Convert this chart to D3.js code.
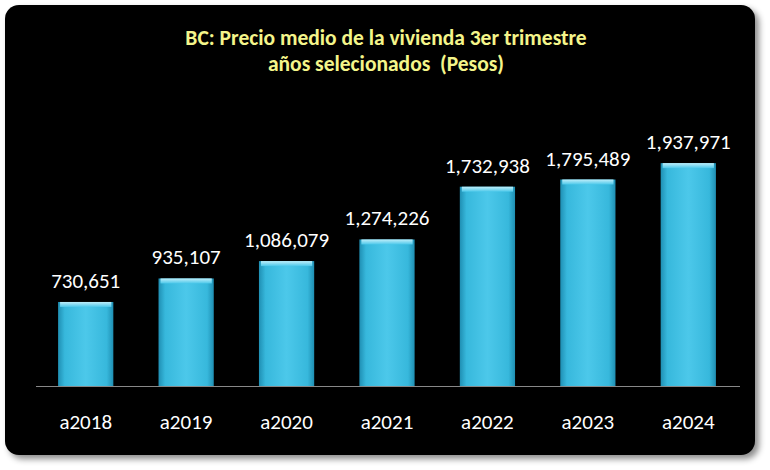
<!DOCTYPE html>
<html><head><meta charset="utf-8">
<script src="https://cdn.jsdelivr.net/npm/d3@7"></script>
<style>body{margin:0;background:#fff}svg{display:block}</style>
</head><body>
<svg id="c" width="770" height="470"></svg>
<script>
var years = ["a2018","a2019","a2020","a2021","a2022","a2023","a2024"];
var prices = [730651, 935107, 1086079, 1274226, 1732938, 1795489, 1937971];
var titleLines = ["BC: Precio medio de la vivienda 3er trimestre", "años selecionados  (Pesos)"];

var svg = d3.select("#c");
var defs = svg.append("defs");
var f = defs.append("filter").attr("id", "sh").attr("x", "-5%").attr("y", "-5%").attr("width", "115%").attr("height", "115%");
f.append("feDropShadow").attr("dx", 4).attr("dy", 4).attr("stdDeviation", 3).attr("flood-color", "#000").attr("flood-opacity", 0.45);

var g1 = defs.append("linearGradient").attr("id", "bar").attr("x1", 0).attr("x2", 1);
g1.append("stop").attr("offset", 0).attr("stop-color", "#1f8fb3");
g1.append("stop").attr("offset", 0.12).attr("stop-color", "#37b8dc");
g1.append("stop").attr("offset", 0.5).attr("stop-color", "#4cc8ea");
g1.append("stop").attr("offset", 0.88).attr("stop-color", "#37b8dc");
g1.append("stop").attr("offset", 1).attr("stop-color", "#1f8fb3");
var g2 = defs.append("linearGradient").attr("id", "top").attr("x1", 0).attr("x2", 0).attr("y1", 0).attr("y2", 1);
g2.append("stop").attr("offset", 0).attr("stop-color", "#bfeefa");
g2.append("stop").attr("offset", 1).attr("stop-color", "#4cc8ea");

svg.append("rect").attr("x", 5).attr("y", 5).attr("width", 750).attr("height", 450)
  .attr("rx", 14).attr("fill", "#000").attr("filter", "url(#sh)");

svg.selectAll("text.title").data(titleLines).enter().append("text")
  .attr("x", 386).attr("y", function (d, i) { return 45 + i * 26; })
  .attr("text-anchor", "middle").attr("fill", "#f4f58a").style("white-space", "pre")
  .attr("font-family", "Carlito, 'Open Sans', sans-serif").attr("font-weight", "bold").attr("font-size", 21.5)
  .text(function (d) { return d; });

var x = d3.scaleBand().domain(years).range([36, 738]).paddingInner(0.45).paddingOuter(0.22);
var y = d3.scaleLinear().domain([0, 2000000]).range([386, 156]);

svg.append("line").attr("x1", 36).attr("x2", 740).attr("y1", 386.5).attr("y2", 386.5)
  .attr("stroke", "#888").attr("stroke-width", 1);

var bars = svg.selectAll("g.bar").data(prices).enter().append("g");
bars.append("rect")
  .attr("x", function (d, i) { return x(years[i]); })
  .attr("y", function (d) { return y(d); })
  .attr("width", x.bandwidth()).attr("height", function (d) { return y(0) - y(d); })
  .attr("fill", "url(#bar)");
bars.append("rect")
  .attr("x", function (d, i) { return x(years[i]) + 2; })
  .attr("y", function (d) { return y(d); })
  .attr("width", x.bandwidth() - 4).attr("height", 5)
  .attr("fill", "url(#top)");

var fmt = d3.format(",");
bars.append("text")
  .attr("x", function (d, i) { return x(years[i]) + x.bandwidth() / 2; })
  .attr("y", function (d) { return y(d) - 14; })
  .attr("text-anchor", "middle").attr("fill", "#fff")
  .attr("font-family", "Carlito, 'Open Sans', sans-serif").attr("font-size", 21)
  .text(function (d) { return fmt(d); });

svg.selectAll("text.cat").data(years).enter().append("text")
  .attr("x", function (d) { return x(d) + x.bandwidth() / 2; })
  .attr("y", 429).attr("text-anchor", "middle").attr("fill", "#fff")
  .attr("font-family", "Carlito, 'Open Sans', sans-serif").attr("font-size", 21)
  .text(function (d) { return d; });
</script>
</body></html>
